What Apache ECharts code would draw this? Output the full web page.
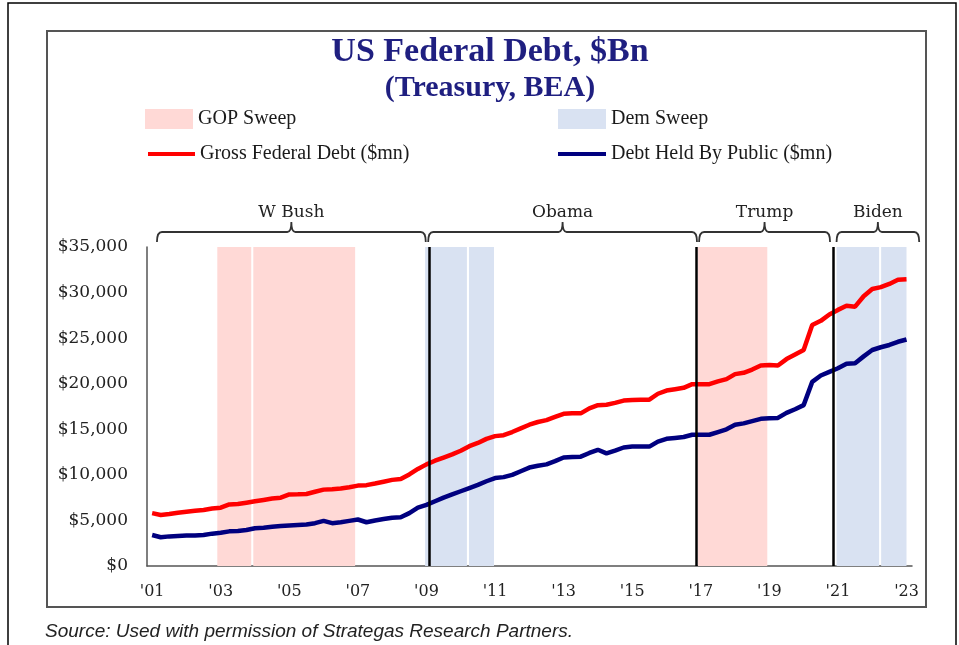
<!DOCTYPE html>
<html>
<head>
<meta charset="utf-8">
<script src="https://cdn.jsdelivr.net/npm/echarts@6/dist/echarts.min.js"></script>
<style>
  html, body { margin: 0; padding: 0; background: #fff; }
  #chart { width: 959px; height: 645px; }
</style>
</head>
<body>
<div id="chart"></div>
<script>
// quarterly, 2001Q1 .. 2023Q1
var gross = [
    5800, 5600, 5700, 5850, 5950, 6050, 6150, 6300,
    6400, 6750, 6800, 6950, 7100, 7250, 7400, 7500,
    7850, 7870, 7900, 8150, 8380, 8430, 8500, 8650,
    8820, 8870, 9050, 9250, 9450, 9550, 10050, 10650,
    11150, 11550, 11900, 12250, 12650, 13150, 13500, 13950,
    14250, 14350, 14700, 15100, 15500, 15800, 16000, 16350,
    16700, 16750, 16750, 17300, 17650, 17700, 17900, 18150,
    18200, 18250, 18250, 18900, 19250, 19400, 19550, 19950,
    19950, 19950, 20250, 20500, 21050, 21200, 21550, 22000,
    22050, 22000, 22700, 23200, 23700, 26450, 26900, 27600,
    28100, 28550, 28450, 29600, 30400, 30600, 30950, 31400,
    31450
];
var publicDebt = [
    3400, 3150, 3250, 3300, 3350, 3350, 3400, 3550,
    3650, 3800, 3850, 3950, 4150, 4200, 4300, 4400,
    4450, 4500, 4550, 4700, 4950, 4700, 4800, 4950,
    5100, 4800, 5000, 5150, 5300, 5350, 5800, 6400,
    6700, 7100, 7500, 7850, 8200, 8550, 8900, 9300,
    9650, 9750, 10000, 10400, 10800, 11000, 11150, 11500,
    11900, 11950, 12000, 12400, 12750, 12350, 12650, 13000,
    13100, 13100, 13100, 13650, 13950, 14050, 14150, 14400,
    14400, 14400, 14700, 15000, 15500, 15650, 15900, 16150,
    16200, 16250, 16800, 17200, 17650, 20200, 20900, 21300,
    21700, 22200, 22250, 23000, 23700, 24000, 24250, 24600,
    24850
];
var startYear = 2001;
var xTicks = [2001, 2003, 2005, 2007, 2009, 2011, 2013, 2015, 2017, 2019, 2021, 2023];

// shaded periods (decimal years)
var gopSweep = [[2002.90, 2003.89], [2003.95, 2006.92], [2016.92, 2018.94]];
var demSweep = [[2008.96, 2010.18], [2010.24, 2010.97], [2020.96, 2022.20], [2022.26, 2023.00]];
var inaugurations = [2009.08, 2016.86, 2020.85];
var terms = [[2001.14, 2008.98], [2009.05, 2016.89], [2016.95, 2020.77], [2020.96, 2023.37]];
var termNames = ['W Bush', 'Obama', 'Trump', 'Biden'];

var RED = '#ff0000', NAVY = '#00007f', PINK = '#ffd9d6', BLUE = '#d9e2f2';
var SERIF = '"DejaVu Serif", serif';
var LEGEND_FONT = {fontFamily: '"Liberation Serif", serif', fontSize: 20, color: '#1a1a1a'};

var toPairs = function (arr) {
    return arr.map(function (v, i) { return [startYear + i / 4, v]; });
};
var toAreas = function (arr) {
    return arr.map(function (p) { return [{xAxis: p[0]}, {xAxis: p[1]}]; });
};

var myChart = echarts.init(document.getElementById('chart'));

var options = {
    animation: false,
    title: [
        {
            text: 'US Federal Debt, $Bn',
            left: 485, top: 30, textAlign: 'center',
            textStyle: {fontFamily: '"Liberation Serif", serif', fontWeight: 'bold', fontSize: 34, color: '#1f1f80'}
        },
        {
            text: '(Treasury, BEA)',
            left: 485, top: 68, textAlign: 'center',
            textStyle: {fontFamily: '"Liberation Serif", serif', fontWeight: 'bold', fontSize: 30, color: '#1f1f80'}
        },
        {
            text: 'Source: Used with permission of Strategas Research Partners.',
            left: 40, top: 617,
            textStyle: {fontFamily: '"Liberation Sans", sans-serif', fontStyle: 'italic', fontWeight: 'normal', fontSize: 19, color: '#222'}
        }
    ],
    legend: [
        {data: ['GOP Sweep'], left: 140, top: 104, icon: 'rect', itemWidth: 48, itemHeight: 20, textStyle: LEGEND_FONT},
        {data: ['Dem Sweep'], left: 553, top: 104, icon: 'rect', itemWidth: 48, itemHeight: 20, textStyle: LEGEND_FONT},
        {data: ['Gross Federal Debt ($mn)'], left: 143, top: 139, icon: 'rect', itemWidth: 47, itemHeight: 4, textStyle: LEGEND_FONT},
        {data: ['Debt Held By Public ($mn)'], left: 553, top: 139, icon: 'rect', itemWidth: 48, itemHeight: 4, textStyle: LEGEND_FONT}
    ],
    graphic: [
        {type: 'rect', shape: {x: 8, y: 3, width: 948, height: 700}, style: {fill: 'none', stroke: '#000', lineWidth: 1.5}, silent: true},
        {type: 'rect', shape: {x: 47, y: 31, width: 879, height: 576}, style: {fill: 'none', stroke: '#555', lineWidth: 2}, silent: true}
    ],
    grid: {left: 147, right: 47, top: 247, bottom: 79},
    xAxis: {
        type: 'value',
        min: 2000.85,
        max: 2023.16,
        splitLine: {show: false},
        axisTick: {show: false},
        axisLine: {lineStyle: {color: '#555', width: 1.5}},
        axisLabel: {
            customValues: xTicks,
            margin: 18,
            fontFamily: SERIF, fontSize: 16, color: '#222',
            formatter: function (v) { return "'" + String(v).slice(2); }
        }
    },
    yAxis: {
        type: 'value',
        min: 0,
        max: 35000,
        interval: 5000,
        splitLine: {show: false},
        axisTick: {show: false},
        axisLine: {show: true, lineStyle: {color: '#555', width: 1.5}},
        axisLabel: {
            margin: 19,
            fontFamily: SERIF, fontSize: 17, color: '#222',
            formatter: function (v) { return '$' + v.toLocaleString('en-US'); }
        }
    },
    series: [
        {
            name: 'GOP Sweep', type: 'line', data: [], z: 1,
            itemStyle: {color: PINK}, lineStyle: {color: PINK},
            markArea: {silent: true, itemStyle: {color: PINK, opacity: 1}, data: toAreas(gopSweep)}
        },
        {
            name: 'Dem Sweep', type: 'line', data: [], z: 1,
            itemStyle: {color: BLUE}, lineStyle: {color: BLUE},
            markArea: {silent: true, itemStyle: {color: BLUE, opacity: 1}, data: toAreas(demSweep)},
            markLine: {
                silent: true, symbol: 'none', label: {show: false},
                lineStyle: {color: '#000', width: 2.5, type: 'solid'},
                data: inaugurations.map(function (x) { return {xAxis: x}; })
            }
        },
        {
            name: 'Gross Federal Debt ($mn)', type: 'line', z: 3,
            showSymbol: false, color: RED,
            lineStyle: {color: RED, width: 4.5},
            data: toPairs(gross)
        },
        {
            name: 'Debt Held By Public ($mn)', type: 'line', z: 3,
            showSymbol: false, color: NAVY,
            lineStyle: {color: NAVY, width: 4.5},
            data: toPairs(publicDebt)
        },
        {
            // presidency brackets above the plot
            name: 'terms', type: 'custom', clip: false, silent: true,
            data: terms,
            renderItem: function (params, api) {
                var x0 = api.coord([api.value(0), 35000])[0];
                var x1 = api.coord([api.value(1), 35000])[0];
                var top = api.coord([startYear, 35000])[1];
                var hy = top - 15, ey = top - 5, ty = top - 25, xm = (x0 + x1) / 2;
                var d = 'M' + x0 + ',' + ey + ' Q' + x0 + ',' + hy + ' ' + (x0 + 5) + ',' + hy +
                    ' L' + (xm - 4) + ',' + hy + ' Q' + xm + ',' + hy + ' ' + xm + ',' + ty +
                    ' Q' + xm + ',' + hy + ' ' + (xm + 4) + ',' + hy +
                    ' L' + (x1 - 5) + ',' + hy + ' Q' + x1 + ',' + hy + ' ' + x1 + ',' + ey;
                return {
                    type: 'group',
                    children: [
                        {type: 'path', shape: {pathData: d}, style: {fill: 'none', stroke: '#333', lineWidth: 1.8}},
                        {type: 'text', style: {text: termNames[params.dataIndex], x: xm, y: hy - 11,
                            align: 'center', verticalAlign: 'bottom', font: '17px ' + SERIF, fill: '#222'}}
                    ]
                };
            }
        }
    ]
};

myChart.setOption(options);
</script>
</body>
</html>
